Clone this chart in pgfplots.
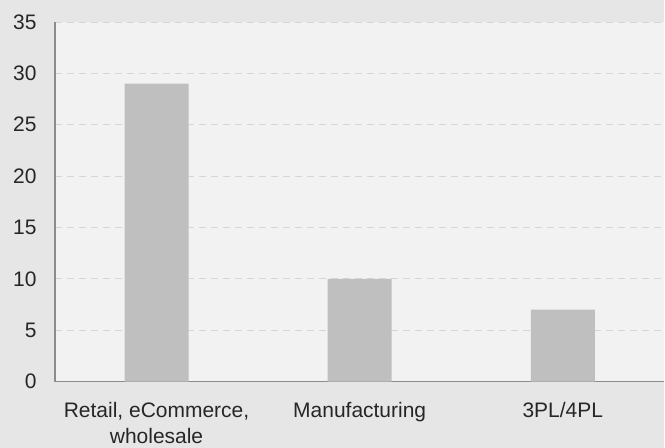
\documentclass[border=0pt]{standalone}
\usepackage{fontspec}
\setmainfont{Liberation Sans}
\usepackage{pgfplots}
\pgfplotsset{compat=1.18}
\definecolor{bgc}{HTML}{E6E6E6}
\definecolor{plotbg}{HTML}{F2F2F2}
\definecolor{barc}{HTML}{BFBFBF}
\definecolor{gridc}{HTML}{D6D6D6}
\definecolor{axc}{HTML}{8C8C8C}
\definecolor{txt}{HTML}{262626}
\begin{document}
\begin{tikzpicture}
\fill[bgc] (-55bp,-66bp) rectangle (610bp,382bp);
\begin{axis}[
  at={(0,0)}, anchor=south west,
  scale only axis,
  width=610bp, height=360bp,
  xmin=-0.5, xmax=2.5,
  ymin=0, ymax=35,
  ytick={0,5,...,35},
  xtick={0,1,2},
  xticklabels={{Retail, eCommerce,\\wholesale},{Manufacturing},{3PL/4PL}},
  axis background/.style={fill=plotbg},
  axis x line*=bottom,
  axis y line*=left,
  axis line style={draw=axc, line width=1.2pt},
  major tick length=0pt,
  ymajorgrids,
  grid style={draw=gridc, line width=0.9pt, dash pattern=on 7bp off 5bp},
  tick label style={font=\fontsize{21bp}{26bp}\selectfont, text=txt},
  xticklabel style={align=center, yshift=-17bp},
  yticklabel style={xshift=-15bp},
  /pgf/number format/assume math mode=true,
  clip=false,
]
\addplot[ybar, bar width=0.315, fill=barc, draw=none] coordinates {(0,29) (1,10) (2,7)};
\end{axis}
\end{tikzpicture}
\end{document}
